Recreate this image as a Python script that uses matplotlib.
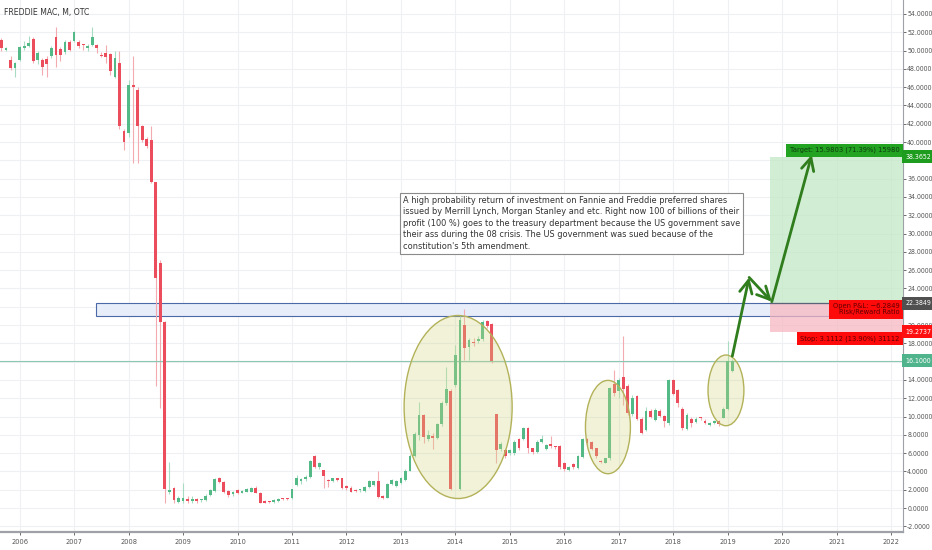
import numpy as np
import matplotlib.pyplot as plt
from matplotlib import font_manager
from matplotlib.patches import Ellipse, Rectangle
from matplotlib.transforms import blended_transform_factory

# monthly candles, first one is Sep 2005 (month index -4, 0 = Jan 2006)
first_month = -4

opens = [
    51.2, 50.1, 49.0, 48.05,
    48.96, 50.25, 50.5, 51.3, 48.96, 48.96, 49.07, 49.43, 51.44, 50.12, 49.87, 50.96,
    51.07, 50.96, 50.6, 50.23, 50.6, 50.6, 49.5, 49.69, 49.58, 47.14, 48.6, 41.2,
    41.02, 46.19, 45.68, 41.75, 40.29, 40.2, 35.59, 26.74, 20.29, 1.8, 2.2, 0.69,
    0.75, 0.95, 0.8, 0.95, 0.85, 0.875, 1.43, 1.86, 3.24, 2.81, 1.9, 1.5,
    1.97, 1.68, 1.79, 1.79, 2.22, 1.6, 0.8, 0.7, 0.69, 0.73, 1.02, 1.06,
    1.06, 2.52, 2.95, 3.17, 3.43, 5.68, 4.45, 4.15, 3.0, 2.95, 3.24, 3.24,
    2.4, 2.22, 1.97, 1.95, 1.9, 2.33, 2.5, 2.95, 1.3, 1.13, 2.63, 2.4,
    2.76, 3.1, 4.1, 5.7, 7.98, 10.16, 7.5, 7.8, 7.68, 9.14, 11.51, 12.78,
    13.44, 2.07, 19.99, 17.63, 18.1, 18.2, 18.43, 20.47, 20.1, 10.23, 6.41, 6.34,
    5.97, 5.97, 7.5, 7.5, 8.78, 6.52, 6.15, 7.25, 6.5, 6.95, 6.75, 6.77,
    4.95, 4.15, 4.8, 4.4, 5.61, 7.52, 7.25, 6.52, 5.1, 4.96, 5.43, 13.56,
    12.83, 14.28, 13.34, 10.24, 12.24, 9.77, 8.53, 10.64, 9.62, 10.64, 10.06, 9.26,
    13.99, 12.9, 10.86, 8.64, 9.7, 9.44, 9.9, 9.55, 9.1, 9.3, 9.55, 9.88,
    10.82, 15.0,
]
closes = [
    50.3, 50.2, 48.05, 48.6,
    50.34, 50.5, 50.8, 48.8, 49.76, 48.23, 48.48, 50.3, 49.5, 49.5, 50.96, 50.05,
    51.98, 50.5, 50.55, 50.5, 51.5, 50.3, 49.43, 49.32, 47.8, 49.14, 41.75, 40.03,
    46.19, 46.0, 41.75, 40.2, 39.56, 35.59, 25.1, 20.29, 2.04, 1.9, 0.87, 1.06,
    1.14, 0.8, 1.0, 0.8, 0.9, 1.35, 1.97, 3.17, 2.88, 1.79, 1.42, 1.8,
    1.68, 1.86, 2.08, 2.22, 1.68, 0.58, 0.58, 0.68, 0.87, 1.02, 0.95, 0.95,
    2.04, 3.24, 3.17, 3.43, 5.17, 4.52, 4.95, 3.5, 2.9, 3.24, 3.06, 2.22,
    2.15, 1.79, 1.86, 1.97, 2.33, 2.95, 2.95, 1.17, 1.13, 2.63, 3.06, 2.95,
    3.24, 4.1, 5.7, 8.09, 10.16, 7.8, 7.98, 7.7, 9.14, 11.51, 13.04, 2.07,
    16.72, 20.54, 17.45, 18.36, 18.0, 18.5, 20.36, 19.89, 16.06, 6.34, 6.95, 5.68,
    6.34, 7.25, 6.52, 8.78, 6.59, 6.08, 7.25, 7.5, 6.9, 6.75, 6.7, 4.45,
    4.3, 4.52, 4.5, 5.65, 7.5, 7.16, 6.45, 5.69, 5.05, 5.43, 13.08, 12.54,
    13.99, 12.97, 10.35, 12.06, 9.77, 8.24, 10.64, 9.99, 10.71, 10.06, 9.55, 13.99,
    12.46, 11.44, 8.71, 10.17, 9.33, 9.73, 9.8, 9.33, 9.3, 9.55, 9.2, 10.82,
    16.1, 16.1,
]
highs = [
    51.4, 50.4, 49.4, 48.7,
    50.5, 51.0, 51.6, 51.5, 49.9, 49.2, 49.4, 50.5, 52.6, 50.4, 51.2, 51.1,
    52.1, 51.1, 50.7, 50.7, 52.6, 50.7, 49.8, 50.6, 49.7, 49.9, 49.9, 41.4,
    46.8, 49.4, 46.0, 41.9, 40.5, 41.75, 35.6, 27.1, 20.4, 5.0, 2.3, 1.3,
    2.7, 1.3, 1.3, 1.1, 1.0, 1.5, 2.1, 3.3, 3.4, 2.9, 2.0, 1.9,
    2.1, 1.95, 2.2, 2.3, 2.4, 1.7, 0.9, 0.8, 0.95, 1.1, 1.1, 1.1,
    2.1, 3.6, 3.3, 3.6, 5.3, 5.8, 5.0, 4.2, 3.2, 3.3, 3.3, 3.3,
    2.5, 2.4, 2.1, 2.1, 2.4, 3.1, 3.0, 4.08, 1.4, 2.7, 3.2, 3.1,
    3.4, 4.3, 5.9, 8.3, 11.6, 10.3, 8.5, 8.2, 9.3, 11.7, 15.4, 13.0,
    17.8, 21.0, 21.8, 18.6, 18.6, 18.8, 20.5, 20.6, 20.2, 10.3, 7.2, 6.4,
    6.5, 7.4, 7.6, 8.9, 8.9, 6.6, 7.4, 8.0, 7.0, 7.9, 6.8, 6.9,
    5.0, 4.6, 4.9, 5.8, 7.6, 7.6, 7.3, 6.6, 5.2, 5.5, 13.2, 15.09,
    14.2, 18.8, 13.5, 12.3, 12.4, 9.9, 11.0, 10.8, 10.9, 10.8, 10.2, 14.1,
    14.1, 13.0, 11.0, 10.4, 9.9, 9.9, 10.0, 9.7, 9.4, 9.6, 9.6, 11.0,
    18.2, 16.3,
]
lows = [
    50.0, 49.9, 47.9, 47.1,
    48.8, 50.1, 50.4, 48.6, 48.5, 47.3, 47.1, 49.2, 48.2, 48.9, 49.6, 49.9,
    50.9, 50.3, 50.1, 49.9, 50.5, 49.7, 49.3, 48.6, 47.3, 47.0, 41.4, 39.1,
    40.6, 37.7, 37.7, 40.0, 39.3, 35.5, 13.3, 10.9, 0.6, 1.5, 0.5, 0.5,
    0.6, 0.6, 0.5, 0.6, 0.7, 0.8, 1.3, 1.8, 2.7, 1.6, 1.2, 1.3,
    1.5, 1.6, 1.7, 1.7, 1.6, 0.5, 0.5, 0.6, 0.6, 0.7, 0.9, 0.9,
    1.0, 2.4, 2.6, 3.0, 3.3, 4.4, 4.3, 2.2, 2.3, 2.8, 2.9, 2.1,
    2.0, 1.7, 1.8, 1.8, 1.8, 2.2, 2.4, 1.1, 1.0, 1.1, 2.5, 2.3,
    2.6, 3.0, 4.0, 5.6, 7.4, 7.1, 7.3, 6.5, 7.5, 9.0, 11.3, 2.0,
    13.2, 2.0, 16.2, 16.2, 17.7, 18.0, 18.3, 19.7, 15.9, 4.88, 6.2, 5.5,
    5.8, 5.8, 6.3, 7.4, 6.0, 5.9, 6.0, 7.1, 6.3, 6.6, 6.5, 4.3,
    4.1, 4.0, 4.3, 4.3, 5.5, 6.9, 6.3, 5.5, 4.9, 4.9, 5.3, 12.2,
    12.0, 11.3, 10.2, 10.1, 9.6, 8.1, 8.4, 9.8, 9.5, 9.9, 8.9, 9.1,
    12.3, 11.0, 8.5, 8.5, 8.9, 9.3, 9.6, 9.2, 9.0, 9.2, 9.0, 9.8,
    10.7, 14.9,
]

years = list(range(2006, 2023))
last_price = 16.1
entry_price = 22.3849
target_price = 38.3652
stop_price = 19.2737

note = ("A high probability return of investment on Fannie and Freddie preferred shares\n"
        "issued by Merrill Lynch, Morgan Stanley and etc. Right now 100 of billions of their\n"
        "profit (100 %) goes to the treasury department because the US government save\n"
        "their ass during the 08 crisis. The US government was sued because of the\n"
        "constitution's 5th amendment.")

GREEN = "#53b987"
RED = "#eb4d5c"

# a condensed face makes the scale labels fit like in TradingView, if one is installed
condensed = any(f.name == "DejaVu Sans" and f.stretch in ("condensed", "semi-condensed")
                for f in font_manager.fontManager.ttflist)
STRETCH = "condensed" if condensed else "normal"
SCALE_FS = 5.0 if condensed else 4.2
TAG_FS = 5.4 if condensed else 4.7

fig = plt.figure(figsize=(9.32, 5.5), dpi=100)
ax = fig.add_axes([0, 18 / 550, 903 / 932, 532 / 550])
ax.set_xlim(-4.32, 194.6)
ax.set_ylim(-2.62, 55.52)

o = np.array(opens)
c = np.array(closes)
h = np.array(highs)
l = np.array(lows)
x = np.arange(first_month, first_month + len(o))
up = c >= o

ax.vlines(x, l, h, colors=np.where(up, "#a8dcc2", "#f4aab1"), lw=0.8, zorder=2)
ax.bar(x, np.maximum(np.abs(c - o), 0.12), bottom=np.minimum(o, c), width=0.62,
       color=np.where(up, GREEN, RED), zorder=3)

# grid / axes
ax.set_xticks([(y - 2006) * 12 for y in years])
ax.set_xticklabels([str(y) for y in years])
ax.set_yticks(np.arange(-2, 56, 2))
# scale values hidden under the price tags
covered = {16, 22, 38}
ax.yaxis.set_major_formatter(plt.FuncFormatter(
    lambda v, p: "" if round(v) in covered else f"{v:.4f}"))
ax.yaxis.tick_right()
ax.grid(color="#eef0f4", lw=0.8, zorder=0)
ax.set_axisbelow(True)
ax.tick_params(axis="both", labelsize=SCALE_FS, colors="#555555", length=2, width=0.6)
ax.tick_params(axis="y", pad=1)
ax.tick_params(axis="x", pad=3, labelsize=4.8)
for lab in ax.get_yticklabels():
    lab.set_fontstretch(STRETCH)
for s in ["top", "left"]:
    ax.spines[s].set_visible(False)
ax.spines["right"].set_color("#9ea1a8")
ax.spines["bottom"].set_color("#9ea1a8")
ax.spines["bottom"].set_linewidth(1.6)

ax.axhline(last_price, color="#8cc7b1", lw=0.8, zorder=2)

# support zone
ax.add_patch(Rectangle((16.76, 20.98), 194.6 - 16.76, entry_price - 20.98,
                       fc="#e7edf9", ec="#4a69a6", lw=0.8, zorder=1))

# highlight ellipses
for cx, cy, w, hgt in [(96.6, 11.04, 23.8, 20.0), (129.6, 8.85, 9.9, 10.2), (155.6, 12.86, 7.9, 7.73)]:
    ax.add_patch(Ellipse((cx, cy), w, hgt, fc=(0.82, 0.84, 0.5, 0.3), ec="#b3b25a", lw=1, zorder=4))

# long position tool
pos_x0 = 165.3
ax.add_patch(Rectangle((pos_x0, entry_price), 194.6 - pos_x0, target_price - entry_price,
                       fc="#c2e8c5", alpha=0.75, lw=0, zorder=5))
ax.add_patch(Rectangle((pos_x0, stop_price), 194.6 - pos_x0, entry_price - stop_price,
                       fc="#f6b8c2", alpha=0.75, lw=0, zorder=5))
ax.plot([pos_x0, 194.6], [entry_price, entry_price], color="#5a6378", lw=0.9, zorder=6)

# projected path
path = [(157.0, 16.6), (160.7, 25.2), (165.7, 22.55), (174.5, 38.6)]
for (x0, y0), (x1, y1) in zip(path[:-1], path[1:]):
    ax.annotate("", xy=(x1, y1), xytext=(x0, y0),
                arrowprops=dict(arrowstyle="->,head_length=0.9,head_width=0.45",
                                color="#2f7d1d", lw=2, shrinkA=0, shrinkB=0), zorder=7)

note_txt = ax.text(84.45, 34.1, note, ha="left", va="top", fontsize=7.2, color="#333333",
                   linespacing=1.0, zorder=8, fontstretch=STRETCH,
                   bbox=dict(boxstyle="square,pad=0.3", fc="white", ec="#8a8a8a", lw=0.8))

tr = blended_transform_factory(ax.transAxes, ax.transData)
ax.text(0.996, 39.1, "Target: 15.9803 (71.39%) 15980", transform=tr, ha="right", va="center",
        fontsize=TAG_FS, color="#0d3b0d", zorder=9, fontstretch=STRETCH,
        bbox=dict(boxstyle="square,pad=0.45", fc="#22a322", ec="none"))
ax.text(0.996, 21.75, "Open P&L: \u22126.2849\nRisk/Reward Ratio", transform=tr, ha="right", va="center",
        fontsize=TAG_FS, color="#5c0000", linespacing=1.05, zorder=9, fontstretch=STRETCH,
        bbox=dict(boxstyle="square,pad=0.45", fc="#ff0a0a", ec="none"))
ax.text(0.996, 18.5, "Stop: 3.1112 (13.90%) 31112", transform=tr, ha="right", va="center",
        fontsize=TAG_FS, color="#5c0000", zorder=9, fontstretch=STRETCH,
        bbox=dict(boxstyle="square,pad=0.45", fc="#ff0a0a", ec="none"))

# price labels on the scale
for val, col in [(target_price, "#1e9c1e"), (entry_price, "#505050"),
                 (stop_price, "#ff1010"), (last_price, "#4fb38c")]:
    ax.text(1.003, val, f"{val:.4f}", transform=tr, ha="left", va="center", fontsize=SCALE_FS,
            color="white", zorder=10, clip_on=False, fontstretch=STRETCH,
            bbox=dict(boxstyle="square,pad=0.5", fc=col, ec="none"))

fig.text(0.004, 0.977, "FREDDIE MAC, M, OTC", fontsize=5.6, color="#333333", va="center")

# fit the note to the width it has in the chart (~340 px), ~11.4 px per line
renderer = fig.canvas.get_renderer()
w = note_txt.get_window_extent(renderer).width
fs = 7.2 * 340 / w
note_txt.set_fontsize(fs)
note_txt.set_linespacing(1.35)

fig.savefig("out.png", dpi=100)
